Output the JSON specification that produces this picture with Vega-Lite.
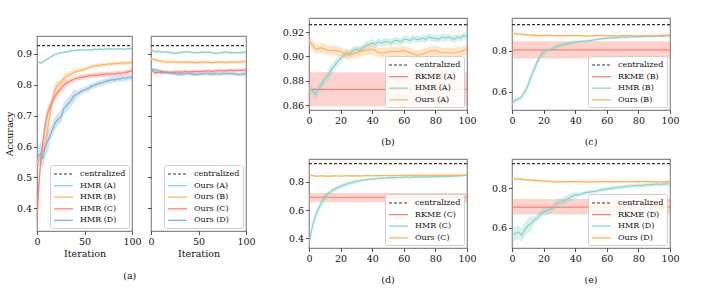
{
"$schema": "https://vega.github.io/schema/vega-lite/v6.json",
"padding": {"left": 3, "top": 17, "right": 0, "bottom": 0},
"datasets": {"d": [
{"k":"centralized","x":0,"y":0.926},{"k":"centralized","x":100,"y":0.926},
{"k":"RKME (A)","x":0,"y":0.873,"l":0.859,"h":0.887},{"k":"RKME (A)","x":100,"y":0.873,"l":0.859,"h":0.887},
{"k":"RKME (B)","x":0,"y":0.803,"l":0.762,"h":0.845},{"k":"RKME (B)","x":100,"y":0.803,"l":0.762,"h":0.845},
{"k":"RKME (C)","x":0,"y":0.690,"l":0.655,"h":0.720},{"k":"RKME (C)","x":100,"y":0.690,"l":0.655,"h":0.720},
{"k":"RKME (D)","x":0,"y":0.705,"l":0.667,"h":0.747},{"k":"RKME (D)","x":100,"y":0.705,"l":0.667,"h":0.747},
{"k":"HMR (A)","x":0,"y":0.874,"l":0.870,"h":0.878},
{"k":"HMR (A)","x":2,"y":0.872,"l":0.868,"h":0.876},
{"k":"HMR (A)","x":4,"y":0.869,"l":0.865,"h":0.873},
{"k":"HMR (A)","x":6,"y":0.873,"l":0.869,"h":0.877},
{"k":"HMR (A)","x":8,"y":0.877,"l":0.873,"h":0.881},
{"k":"HMR (A)","x":10,"y":0.881,"l":0.877,"h":0.885},
{"k":"HMR (A)","x":12,"y":0.884,"l":0.880,"h":0.888},
{"k":"HMR (A)","x":14,"y":0.889,"l":0.885,"h":0.893},
{"k":"HMR (A)","x":16,"y":0.892,"l":0.888,"h":0.896},
{"k":"HMR (A)","x":18,"y":0.896,"l":0.892,"h":0.900},
{"k":"HMR (A)","x":20,"y":0.898,"l":0.894,"h":0.902},
{"k":"HMR (A)","x":22,"y":0.901,"l":0.898,"h":0.904},
{"k":"HMR (A)","x":24,"y":0.903,"l":0.900,"h":0.906},
{"k":"HMR (A)","x":26,"y":0.902,"l":0.899,"h":0.905},
{"k":"HMR (A)","x":28,"y":0.905,"l":0.902,"h":0.908},
{"k":"HMR (A)","x":30,"y":0.906,"l":0.903,"h":0.909},
{"k":"HMR (A)","x":32,"y":0.905,"l":0.902,"h":0.908},
{"k":"HMR (A)","x":34,"y":0.907,"l":0.904,"h":0.910},
{"k":"HMR (A)","x":36,"y":0.909,"l":0.906,"h":0.912},
{"k":"HMR (A)","x":38,"y":0.910,"l":0.907,"h":0.913},
{"k":"HMR (A)","x":40,"y":0.911,"l":0.908,"h":0.914},
{"k":"HMR (A)","x":42,"y":0.910,"l":0.907,"h":0.913},
{"k":"HMR (A)","x":44,"y":0.912,"l":0.909,"h":0.915},
{"k":"HMR (A)","x":46,"y":0.911,"l":0.908,"h":0.914},
{"k":"HMR (A)","x":48,"y":0.912,"l":0.909,"h":0.915},
{"k":"HMR (A)","x":50,"y":0.912,"l":0.909,"h":0.915},
{"k":"HMR (A)","x":52,"y":0.911,"l":0.908,"h":0.914},
{"k":"HMR (A)","x":54,"y":0.913,"l":0.910,"h":0.916},
{"k":"HMR (A)","x":56,"y":0.913,"l":0.910,"h":0.916},
{"k":"HMR (A)","x":58,"y":0.912,"l":0.909,"h":0.915},
{"k":"HMR (A)","x":60,"y":0.914,"l":0.911,"h":0.917},
{"k":"HMR (A)","x":62,"y":0.914,"l":0.911,"h":0.917},
{"k":"HMR (A)","x":64,"y":0.913,"l":0.910,"h":0.916},
{"k":"HMR (A)","x":66,"y":0.915,"l":0.912,"h":0.918},
{"k":"HMR (A)","x":68,"y":0.914,"l":0.911,"h":0.917},
{"k":"HMR (A)","x":70,"y":0.914,"l":0.911,"h":0.917},
{"k":"HMR (A)","x":72,"y":0.915,"l":0.912,"h":0.918},
{"k":"HMR (A)","x":74,"y":0.914,"l":0.911,"h":0.917},
{"k":"HMR (A)","x":76,"y":0.916,"l":0.913,"h":0.919},
{"k":"HMR (A)","x":78,"y":0.915,"l":0.912,"h":0.918},
{"k":"HMR (A)","x":80,"y":0.915,"l":0.912,"h":0.918},
{"k":"HMR (A)","x":82,"y":0.914,"l":0.911,"h":0.917},
{"k":"HMR (A)","x":84,"y":0.916,"l":0.913,"h":0.919},
{"k":"HMR (A)","x":86,"y":0.915,"l":0.912,"h":0.918},
{"k":"HMR (A)","x":88,"y":0.916,"l":0.913,"h":0.919},
{"k":"HMR (A)","x":90,"y":0.915,"l":0.912,"h":0.918},
{"k":"HMR (A)","x":92,"y":0.914,"l":0.911,"h":0.917},
{"k":"HMR (A)","x":94,"y":0.916,"l":0.913,"h":0.919},
{"k":"HMR (A)","x":96,"y":0.915,"l":0.912,"h":0.918},
{"k":"HMR (A)","x":98,"y":0.917,"l":0.914,"h":0.920},
{"k":"HMR (A)","x":100,"y":0.916,"l":0.913,"h":0.919},
{"k":"Ours (A)","x":0,"y":0.913,"l":0.909,"h":0.917},
{"k":"Ours (A)","x":4,"y":0.906,"l":0.902,"h":0.910},
{"k":"Ours (A)","x":8,"y":0.907,"l":0.903,"h":0.911},
{"k":"Ours (A)","x":12,"y":0.905,"l":0.901,"h":0.909},
{"k":"Ours (A)","x":16,"y":0.905,"l":0.901,"h":0.909},
{"k":"Ours (A)","x":20,"y":0.904,"l":0.900,"h":0.908},
{"k":"Ours (A)","x":24,"y":0.901,"l":0.897,"h":0.905},
{"k":"Ours (A)","x":28,"y":0.902,"l":0.898,"h":0.906},
{"k":"Ours (A)","x":32,"y":0.904,"l":0.900,"h":0.908},
{"k":"Ours (A)","x":36,"y":0.905,"l":0.901,"h":0.909},
{"k":"Ours (A)","x":40,"y":0.906,"l":0.902,"h":0.910},
{"k":"Ours (A)","x":44,"y":0.903,"l":0.899,"h":0.907},
{"k":"Ours (A)","x":48,"y":0.903,"l":0.899,"h":0.907},
{"k":"Ours (A)","x":52,"y":0.904,"l":0.900,"h":0.908},
{"k":"Ours (A)","x":56,"y":0.904,"l":0.900,"h":0.908},
{"k":"Ours (A)","x":60,"y":0.905,"l":0.901,"h":0.909},
{"k":"Ours (A)","x":64,"y":0.903,"l":0.899,"h":0.907},
{"k":"Ours (A)","x":68,"y":0.901,"l":0.897,"h":0.905},
{"k":"Ours (A)","x":72,"y":0.902,"l":0.898,"h":0.906},
{"k":"Ours (A)","x":76,"y":0.904,"l":0.900,"h":0.908},
{"k":"Ours (A)","x":80,"y":0.905,"l":0.901,"h":0.909},
{"k":"Ours (A)","x":84,"y":0.903,"l":0.899,"h":0.907},
{"k":"Ours (A)","x":88,"y":0.903,"l":0.899,"h":0.907},
{"k":"Ours (A)","x":92,"y":0.903,"l":0.899,"h":0.907},
{"k":"Ours (A)","x":96,"y":0.904,"l":0.900,"h":0.908},
{"k":"Ours (A)","x":100,"y":0.906,"l":0.902,"h":0.910},
{"k":"HMR (B)","x":0,"y":0.545,"l":0.533,"h":0.557},
{"k":"HMR (B)","x":2,"y":0.560,"l":0.548,"h":0.572},
{"k":"HMR (B)","x":4,"y":0.565,"l":0.553,"h":0.577},
{"k":"HMR (B)","x":6,"y":0.575,"l":0.563,"h":0.587},
{"k":"HMR (B)","x":8,"y":0.600,"l":0.588,"h":0.612},
{"k":"HMR (B)","x":10,"y":0.630,"l":0.610,"h":0.650},
{"k":"HMR (B)","x":12,"y":0.672,"l":0.652,"h":0.692},
{"k":"HMR (B)","x":14,"y":0.710,"l":0.690,"h":0.730},
{"k":"HMR (B)","x":16,"y":0.745,"l":0.725,"h":0.765},
{"k":"HMR (B)","x":18,"y":0.775,"l":0.755,"h":0.795},
{"k":"HMR (B)","x":20,"y":0.790,"l":0.770,"h":0.810},
{"k":"HMR (B)","x":22,"y":0.800,"l":0.790,"h":0.810},
{"k":"HMR (B)","x":24,"y":0.805,"l":0.795,"h":0.815},
{"k":"HMR (B)","x":26,"y":0.812,"l":0.802,"h":0.822},
{"k":"HMR (B)","x":28,"y":0.818,"l":0.808,"h":0.828},
{"k":"HMR (B)","x":30,"y":0.825,"l":0.815,"h":0.835},
{"k":"HMR (B)","x":32,"y":0.828,"l":0.818,"h":0.838},
{"k":"HMR (B)","x":34,"y":0.832,"l":0.822,"h":0.842},
{"k":"HMR (B)","x":36,"y":0.835,"l":0.825,"h":0.845},
{"k":"HMR (B)","x":38,"y":0.838,"l":0.828,"h":0.848},
{"k":"HMR (B)","x":40,"y":0.841,"l":0.831,"h":0.851},
{"k":"HMR (B)","x":42,"y":0.843,"l":0.837,"h":0.849},
{"k":"HMR (B)","x":44,"y":0.845,"l":0.839,"h":0.851},
{"k":"HMR (B)","x":46,"y":0.846,"l":0.840,"h":0.852},
{"k":"HMR (B)","x":48,"y":0.847,"l":0.841,"h":0.853},
{"k":"HMR (B)","x":50,"y":0.849,"l":0.843,"h":0.855},
{"k":"HMR (B)","x":52,"y":0.852,"l":0.846,"h":0.858},
{"k":"HMR (B)","x":54,"y":0.854,"l":0.848,"h":0.860},
{"k":"HMR (B)","x":56,"y":0.857,"l":0.851,"h":0.863},
{"k":"HMR (B)","x":58,"y":0.858,"l":0.852,"h":0.864},
{"k":"HMR (B)","x":60,"y":0.860,"l":0.854,"h":0.866},
{"k":"HMR (B)","x":62,"y":0.861,"l":0.855,"h":0.867},
{"k":"HMR (B)","x":64,"y":0.862,"l":0.856,"h":0.868},
{"k":"HMR (B)","x":66,"y":0.861,"l":0.855,"h":0.867},
{"k":"HMR (B)","x":68,"y":0.864,"l":0.858,"h":0.870},
{"k":"HMR (B)","x":70,"y":0.865,"l":0.859,"h":0.871},
{"k":"HMR (B)","x":72,"y":0.864,"l":0.858,"h":0.870},
{"k":"HMR (B)","x":74,"y":0.866,"l":0.860,"h":0.872},
{"k":"HMR (B)","x":76,"y":0.867,"l":0.861,"h":0.873},
{"k":"HMR (B)","x":78,"y":0.866,"l":0.860,"h":0.872},
{"k":"HMR (B)","x":80,"y":0.868,"l":0.862,"h":0.874},
{"k":"HMR (B)","x":82,"y":0.867,"l":0.861,"h":0.873},
{"k":"HMR (B)","x":84,"y":0.869,"l":0.863,"h":0.875},
{"k":"HMR (B)","x":86,"y":0.868,"l":0.862,"h":0.874},
{"k":"HMR (B)","x":88,"y":0.870,"l":0.864,"h":0.876},
{"k":"HMR (B)","x":90,"y":0.869,"l":0.863,"h":0.875},
{"k":"HMR (B)","x":92,"y":0.871,"l":0.865,"h":0.877},
{"k":"HMR (B)","x":94,"y":0.870,"l":0.864,"h":0.876},
{"k":"HMR (B)","x":96,"y":0.869,"l":0.863,"h":0.875},
{"k":"HMR (B)","x":98,"y":0.872,"l":0.866,"h":0.878},
{"k":"HMR (B)","x":100,"y":0.871,"l":0.865,"h":0.877},
{"k":"Ours (B)","x":0,"y":0.884,"l":0.879,"h":0.889},
{"k":"Ours (B)","x":4,"y":0.880,"l":0.875,"h":0.885},
{"k":"Ours (B)","x":8,"y":0.877,"l":0.872,"h":0.882},
{"k":"Ours (B)","x":12,"y":0.875,"l":0.870,"h":0.880},
{"k":"Ours (B)","x":16,"y":0.873,"l":0.868,"h":0.878},
{"k":"Ours (B)","x":20,"y":0.873,"l":0.868,"h":0.878},
{"k":"Ours (B)","x":24,"y":0.874,"l":0.869,"h":0.879},
{"k":"Ours (B)","x":28,"y":0.872,"l":0.867,"h":0.877},
{"k":"Ours (B)","x":32,"y":0.873,"l":0.868,"h":0.878},
{"k":"Ours (B)","x":36,"y":0.872,"l":0.867,"h":0.877},
{"k":"Ours (B)","x":40,"y":0.873,"l":0.868,"h":0.878},
{"k":"Ours (B)","x":44,"y":0.872,"l":0.867,"h":0.877},
{"k":"Ours (B)","x":48,"y":0.871,"l":0.866,"h":0.876},
{"k":"Ours (B)","x":52,"y":0.872,"l":0.867,"h":0.877},
{"k":"Ours (B)","x":56,"y":0.873,"l":0.868,"h":0.878},
{"k":"Ours (B)","x":60,"y":0.872,"l":0.867,"h":0.877},
{"k":"Ours (B)","x":64,"y":0.871,"l":0.866,"h":0.876},
{"k":"Ours (B)","x":68,"y":0.872,"l":0.867,"h":0.877},
{"k":"Ours (B)","x":72,"y":0.873,"l":0.868,"h":0.878},
{"k":"Ours (B)","x":76,"y":0.872,"l":0.867,"h":0.877},
{"k":"Ours (B)","x":80,"y":0.872,"l":0.867,"h":0.877},
{"k":"Ours (B)","x":84,"y":0.873,"l":0.868,"h":0.878},
{"k":"Ours (B)","x":88,"y":0.872,"l":0.867,"h":0.877},
{"k":"Ours (B)","x":92,"y":0.873,"l":0.868,"h":0.878},
{"k":"Ours (B)","x":96,"y":0.874,"l":0.869,"h":0.879},
{"k":"Ours (B)","x":100,"y":0.874,"l":0.869,"h":0.879},
{"k":"HMR (C)","x":0,"y":0.360,"l":0.330,"h":0.390},
{"k":"HMR (C)","x":2,"y":0.480,"l":0.450,"h":0.510},
{"k":"HMR (C)","x":4,"y":0.555,"l":0.525,"h":0.585},
{"k":"HMR (C)","x":6,"y":0.610,"l":0.580,"h":0.640},
{"k":"HMR (C)","x":8,"y":0.655,"l":0.625,"h":0.685},
{"k":"HMR (C)","x":10,"y":0.690,"l":0.660,"h":0.720},
{"k":"HMR (C)","x":12,"y":0.715,"l":0.700,"h":0.730},
{"k":"HMR (C)","x":14,"y":0.732,"l":0.717,"h":0.747},
{"k":"HMR (C)","x":16,"y":0.745,"l":0.730,"h":0.760},
{"k":"HMR (C)","x":18,"y":0.757,"l":0.742,"h":0.772},
{"k":"HMR (C)","x":20,"y":0.767,"l":0.752,"h":0.782},
{"k":"HMR (C)","x":22,"y":0.775,"l":0.760,"h":0.790},
{"k":"HMR (C)","x":24,"y":0.783,"l":0.768,"h":0.798},
{"k":"HMR (C)","x":26,"y":0.790,"l":0.775,"h":0.805},
{"k":"HMR (C)","x":28,"y":0.797,"l":0.782,"h":0.812},
{"k":"HMR (C)","x":30,"y":0.802,"l":0.787,"h":0.817},
{"k":"HMR (C)","x":32,"y":0.806,"l":0.798,"h":0.814},
{"k":"HMR (C)","x":34,"y":0.810,"l":0.802,"h":0.818},
{"k":"HMR (C)","x":36,"y":0.813,"l":0.805,"h":0.821},
{"k":"HMR (C)","x":38,"y":0.816,"l":0.808,"h":0.824},
{"k":"HMR (C)","x":40,"y":0.819,"l":0.811,"h":0.827},
{"k":"HMR (C)","x":42,"y":0.820,"l":0.812,"h":0.828},
{"k":"HMR (C)","x":44,"y":0.822,"l":0.814,"h":0.830},
{"k":"HMR (C)","x":46,"y":0.823,"l":0.815,"h":0.831},
{"k":"HMR (C)","x":48,"y":0.825,"l":0.817,"h":0.833},
{"k":"HMR (C)","x":50,"y":0.826,"l":0.818,"h":0.834},
{"k":"HMR (C)","x":52,"y":0.826,"l":0.818,"h":0.834},
{"k":"HMR (C)","x":54,"y":0.828,"l":0.820,"h":0.836},
{"k":"HMR (C)","x":56,"y":0.829,"l":0.821,"h":0.837},
{"k":"HMR (C)","x":58,"y":0.829,"l":0.821,"h":0.837},
{"k":"HMR (C)","x":60,"y":0.830,"l":0.822,"h":0.838},
{"k":"HMR (C)","x":62,"y":0.831,"l":0.823,"h":0.839},
{"k":"HMR (C)","x":64,"y":0.830,"l":0.822,"h":0.838},
{"k":"HMR (C)","x":66,"y":0.832,"l":0.824,"h":0.840},
{"k":"HMR (C)","x":68,"y":0.833,"l":0.825,"h":0.841},
{"k":"HMR (C)","x":70,"y":0.832,"l":0.824,"h":0.840},
{"k":"HMR (C)","x":72,"y":0.833,"l":0.825,"h":0.841},
{"k":"HMR (C)","x":74,"y":0.834,"l":0.826,"h":0.842},
{"k":"HMR (C)","x":76,"y":0.833,"l":0.825,"h":0.841},
{"k":"HMR (C)","x":78,"y":0.835,"l":0.827,"h":0.843},
{"k":"HMR (C)","x":80,"y":0.835,"l":0.827,"h":0.843},
{"k":"HMR (C)","x":82,"y":0.834,"l":0.826,"h":0.842},
{"k":"HMR (C)","x":84,"y":0.836,"l":0.828,"h":0.844},
{"k":"HMR (C)","x":86,"y":0.837,"l":0.829,"h":0.845},
{"k":"HMR (C)","x":88,"y":0.836,"l":0.828,"h":0.844},
{"k":"HMR (C)","x":90,"y":0.838,"l":0.830,"h":0.846},
{"k":"HMR (C)","x":92,"y":0.839,"l":0.831,"h":0.847},
{"k":"HMR (C)","x":94,"y":0.840,"l":0.832,"h":0.848},
{"k":"HMR (C)","x":96,"y":0.841,"l":0.833,"h":0.849},
{"k":"HMR (C)","x":98,"y":0.843,"l":0.835,"h":0.851},
{"k":"HMR (C)","x":100,"y":0.845,"l":0.837,"h":0.853},
{"k":"Ours (C)","x":0,"y":0.848,"l":0.842,"h":0.854},
{"k":"Ours (C)","x":4,"y":0.838,"l":0.830,"h":0.846},
{"k":"Ours (C)","x":8,"y":0.840,"l":0.834,"h":0.846},
{"k":"Ours (C)","x":12,"y":0.838,"l":0.832,"h":0.844},
{"k":"Ours (C)","x":16,"y":0.840,"l":0.834,"h":0.846},
{"k":"Ours (C)","x":20,"y":0.839,"l":0.833,"h":0.845},
{"k":"Ours (C)","x":24,"y":0.840,"l":0.834,"h":0.846},
{"k":"Ours (C)","x":28,"y":0.841,"l":0.835,"h":0.847},
{"k":"Ours (C)","x":32,"y":0.840,"l":0.834,"h":0.846},
{"k":"Ours (C)","x":36,"y":0.842,"l":0.836,"h":0.848},
{"k":"Ours (C)","x":40,"y":0.841,"l":0.835,"h":0.847},
{"k":"Ours (C)","x":44,"y":0.842,"l":0.836,"h":0.848},
{"k":"Ours (C)","x":48,"y":0.843,"l":0.837,"h":0.849},
{"k":"Ours (C)","x":52,"y":0.842,"l":0.836,"h":0.848},
{"k":"Ours (C)","x":56,"y":0.843,"l":0.837,"h":0.849},
{"k":"Ours (C)","x":60,"y":0.844,"l":0.838,"h":0.850},
{"k":"Ours (C)","x":64,"y":0.843,"l":0.837,"h":0.849},
{"k":"Ours (C)","x":68,"y":0.844,"l":0.838,"h":0.850},
{"k":"Ours (C)","x":72,"y":0.845,"l":0.839,"h":0.851},
{"k":"Ours (C)","x":76,"y":0.844,"l":0.838,"h":0.850},
{"k":"Ours (C)","x":80,"y":0.845,"l":0.839,"h":0.851},
{"k":"Ours (C)","x":84,"y":0.846,"l":0.840,"h":0.852},
{"k":"Ours (C)","x":88,"y":0.845,"l":0.839,"h":0.851},
{"k":"Ours (C)","x":92,"y":0.846,"l":0.840,"h":0.852},
{"k":"Ours (C)","x":96,"y":0.846,"l":0.840,"h":0.852},
{"k":"Ours (C)","x":100,"y":0.847,"l":0.841,"h":0.853},
{"k":"HMR (D)","x":0,"y":0.562,"l":0.527,"h":0.597},
{"k":"HMR (D)","x":2,"y":0.570,"l":0.535,"h":0.605},
{"k":"HMR (D)","x":4,"y":0.578,"l":0.543,"h":0.613},
{"k":"HMR (D)","x":6,"y":0.562,"l":0.527,"h":0.597},
{"k":"HMR (D)","x":8,"y":0.590,"l":0.555,"h":0.625},
{"k":"HMR (D)","x":10,"y":0.610,"l":0.575,"h":0.645},
{"k":"HMR (D)","x":12,"y":0.622,"l":0.587,"h":0.657},
{"k":"HMR (D)","x":14,"y":0.638,"l":0.618,"h":0.658},
{"k":"HMR (D)","x":16,"y":0.652,"l":0.632,"h":0.672},
{"k":"HMR (D)","x":18,"y":0.668,"l":0.648,"h":0.688},
{"k":"HMR (D)","x":20,"y":0.680,"l":0.660,"h":0.700},
{"k":"HMR (D)","x":22,"y":0.688,"l":0.668,"h":0.708},
{"k":"HMR (D)","x":24,"y":0.693,"l":0.673,"h":0.713},
{"k":"HMR (D)","x":26,"y":0.700,"l":0.680,"h":0.720},
{"k":"HMR (D)","x":28,"y":0.722,"l":0.702,"h":0.742},
{"k":"HMR (D)","x":30,"y":0.728,"l":0.708,"h":0.748},
{"k":"HMR (D)","x":32,"y":0.735,"l":0.715,"h":0.755},
{"k":"HMR (D)","x":34,"y":0.742,"l":0.722,"h":0.762},
{"k":"HMR (D)","x":36,"y":0.750,"l":0.730,"h":0.770},
{"k":"HMR (D)","x":38,"y":0.760,"l":0.740,"h":0.780},
{"k":"HMR (D)","x":40,"y":0.766,"l":0.746,"h":0.786},
{"k":"HMR (D)","x":42,"y":0.768,"l":0.758,"h":0.778},
{"k":"HMR (D)","x":44,"y":0.772,"l":0.762,"h":0.782},
{"k":"HMR (D)","x":46,"y":0.778,"l":0.768,"h":0.788},
{"k":"HMR (D)","x":48,"y":0.780,"l":0.770,"h":0.790},
{"k":"HMR (D)","x":50,"y":0.783,"l":0.773,"h":0.793},
{"k":"HMR (D)","x":52,"y":0.785,"l":0.775,"h":0.795},
{"k":"HMR (D)","x":54,"y":0.787,"l":0.777,"h":0.797},
{"k":"HMR (D)","x":56,"y":0.792,"l":0.782,"h":0.802},
{"k":"HMR (D)","x":58,"y":0.795,"l":0.785,"h":0.805},
{"k":"HMR (D)","x":60,"y":0.797,"l":0.787,"h":0.807},
{"k":"HMR (D)","x":62,"y":0.800,"l":0.790,"h":0.810},
{"k":"HMR (D)","x":64,"y":0.802,"l":0.792,"h":0.812},
{"k":"HMR (D)","x":66,"y":0.805,"l":0.795,"h":0.815},
{"k":"HMR (D)","x":68,"y":0.806,"l":0.796,"h":0.816},
{"k":"HMR (D)","x":70,"y":0.808,"l":0.798,"h":0.818},
{"k":"HMR (D)","x":72,"y":0.810,"l":0.800,"h":0.820},
{"k":"HMR (D)","x":74,"y":0.812,"l":0.802,"h":0.822},
{"k":"HMR (D)","x":76,"y":0.813,"l":0.803,"h":0.823},
{"k":"HMR (D)","x":78,"y":0.815,"l":0.805,"h":0.825},
{"k":"HMR (D)","x":80,"y":0.816,"l":0.806,"h":0.826},
{"k":"HMR (D)","x":82,"y":0.815,"l":0.805,"h":0.825},
{"k":"HMR (D)","x":84,"y":0.818,"l":0.808,"h":0.828},
{"k":"HMR (D)","x":86,"y":0.819,"l":0.809,"h":0.829},
{"k":"HMR (D)","x":88,"y":0.818,"l":0.808,"h":0.828},
{"k":"HMR (D)","x":90,"y":0.821,"l":0.811,"h":0.831},
{"k":"HMR (D)","x":92,"y":0.822,"l":0.812,"h":0.832},
{"k":"HMR (D)","x":94,"y":0.820,"l":0.810,"h":0.830},
{"k":"HMR (D)","x":96,"y":0.823,"l":0.813,"h":0.833},
{"k":"HMR (D)","x":98,"y":0.824,"l":0.814,"h":0.834},
{"k":"HMR (D)","x":100,"y":0.822,"l":0.812,"h":0.832},
{"k":"Ours (D)","x":0,"y":0.850,"l":0.844,"h":0.856},
{"k":"Ours (D)","x":4,"y":0.848,"l":0.842,"h":0.854},
{"k":"Ours (D)","x":8,"y":0.845,"l":0.839,"h":0.851},
{"k":"Ours (D)","x":12,"y":0.842,"l":0.836,"h":0.848},
{"k":"Ours (D)","x":16,"y":0.840,"l":0.834,"h":0.846},
{"k":"Ours (D)","x":20,"y":0.838,"l":0.832,"h":0.844},
{"k":"Ours (D)","x":24,"y":0.836,"l":0.830,"h":0.842},
{"k":"Ours (D)","x":28,"y":0.834,"l":0.828,"h":0.840},
{"k":"Ours (D)","x":32,"y":0.834,"l":0.828,"h":0.840},
{"k":"Ours (D)","x":36,"y":0.835,"l":0.829,"h":0.841},
{"k":"Ours (D)","x":40,"y":0.835,"l":0.829,"h":0.841},
{"k":"Ours (D)","x":44,"y":0.834,"l":0.828,"h":0.840},
{"k":"Ours (D)","x":48,"y":0.833,"l":0.827,"h":0.839},
{"k":"Ours (D)","x":52,"y":0.834,"l":0.828,"h":0.840},
{"k":"Ours (D)","x":56,"y":0.835,"l":0.829,"h":0.841},
{"k":"Ours (D)","x":60,"y":0.835,"l":0.829,"h":0.841},
{"k":"Ours (D)","x":64,"y":0.834,"l":0.828,"h":0.840},
{"k":"Ours (D)","x":68,"y":0.835,"l":0.829,"h":0.841},
{"k":"Ours (D)","x":72,"y":0.834,"l":0.828,"h":0.840},
{"k":"Ours (D)","x":76,"y":0.835,"l":0.829,"h":0.841},
{"k":"Ours (D)","x":80,"y":0.835,"l":0.829,"h":0.841},
{"k":"Ours (D)","x":84,"y":0.836,"l":0.830,"h":0.842},
{"k":"Ours (D)","x":88,"y":0.834,"l":0.828,"h":0.840},
{"k":"Ours (D)","x":92,"y":0.833,"l":0.827,"h":0.839},
{"k":"Ours (D)","x":96,"y":0.834,"l":0.828,"h":0.840},
{"k":"Ours (D)","x":100,"y":0.835,"l":0.829,"h":0.841}
]},
"data": {"name": "d"},
"config": {
  "font": "DejaVu Serif",
  "view": {"stroke": "#888888", "strokeWidth": 1.2},
  "axis": {"domain": false, "grid": false, "tickColor": "#222222", "tickSize": 3.5, "tickWidth": 0.8, "labelFontSize": 9.5, "labelColor": "#111111", "labelPadding": 2, "labelFlush": false, "labelOverlap": false, "labelBound": false, "titleFontSize": 9.5, "titleFontWeight": "normal", "titleColor": "#111111", "titlePadding": 2},
  "legend": {"orient": "bottom-right", "offset": 3, "labelFontSize": 8, "labelColor": "#111111", "symbolType": "M-1,0H2.8", "symbolSize": 100, "symbolStrokeWidth": 1.4, "rowPadding": 1.6, "padding": 3, "fillColor": "rgba(255,255,255,0.85)", "strokeColor": "#d0d0d0", "cornerRadius": 2, "labelOffset": 15},
  "title": {"fontSize": 9.5, "fontWeight": "normal", "color": "#111111"},
  "line": {"strokeWidth": 1.2, "clip": true},
  "area": {"opacity": 0.35, "clip": true}
},
"spacing": 25,
"resolve": {"scale": {"x": "independent", "y": "independent", "color": "independent", "strokeDash": "independent", "fill": "independent"}, "legend": {"color": "independent", "strokeDash": "independent"}},
"hconcat": [
 {
  "title": {"text": "(a)", "orient": "bottom", "anchor": "middle", "offset": 13},
  "spacing": 16,
  "resolve": {"scale": {"x": "independent", "y": "independent", "color": "independent", "strokeDash": "independent", "fill": "independent"}, "legend": {"color": "independent", "strokeDash": "independent"}},
  "vconcat": [
   {"width": 95, "height": 1, "data": {"values": []}, "mark": "text", "view": {"stroke": null}},
   {
  "bounds": "flush",
  "spacing": 19,
  "resolve": {"scale": {"x": "independent", "y": "independent", "color": "independent", "strokeDash": "independent", "fill": "independent"}, "legend": {"color": "independent", "strokeDash": "independent"}},
  "hconcat": [
   {
    "width": 95, "height": 195,
    "encoding": {"x": {"field": "x", "type": "quantitative", "scale": {"domain": [0, 100], "nice": false}, "axis": {"values": [0, 50, 100], "title": "Iteration"}}},
    "layer": [
     {"transform": [{"filter": {"field": "k", "oneOf": ["HMR (A)", "HMR (B)", "HMR (C)", "HMR (D)"]}}],
      "mark": "area",
      "encoding": {
       "y": {"field": "l", "type": "quantitative", "scale": {"domain": [0.327, 0.957], "nice": false, "zero": false}, "axis": {"values": [0.4, 0.5, 0.6, 0.7, 0.8, 0.9], "format": ".1f", "title": "Accuracy"}},
       "y2": {"field": "h"},
       "fill": {"field": "k", "type": "nominal", "scale": {"domain": ["HMR (A)", "HMR (B)", "HMR (C)", "HMR (D)"], "range": ["#8dd3c7", "#fdb462", "#fb8072", "#80b1d3"]}, "legend": null}}},
     {"transform": [{"filter": {"field": "k", "oneOf": ["centralized", "HMR (A)", "HMR (B)", "HMR (C)", "HMR (D)"]}}],
      "mark": "line",
      "encoding": {
       "y": {"field": "y", "type": "quantitative", "scale": {"domain": [0.327, 0.957], "nice": false, "zero": false}, "axis": {"values": [0.4, 0.5, 0.6, 0.7, 0.8, 0.9], "format": ".1f", "title": "Accuracy"}},
       "color": {"field": "k", "type": "nominal", "scale": {"domain": ["centralized", "HMR (A)", "HMR (B)", "HMR (C)", "HMR (D)"], "range": ["#333333", "#8dd3c7", "#fdb462", "#fb8072", "#80b1d3"]}, "legend": {"title": null}},
       "strokeDash": {"field": "k", "type": "nominal", "scale": {"domain": ["centralized", "HMR (A)", "HMR (B)", "HMR (C)", "HMR (D)"], "range": [[3, 2], [1, 0], [1, 0], [1, 0], [1, 0]]}, "legend": {"title": null}}}}
    ]
   },
   {
    "width": 95, "height": 195,
    "encoding": {"x": {"field": "x", "type": "quantitative", "scale": {"domain": [0, 100], "nice": false}, "axis": {"values": [0, 50, 100], "title": "Iteration"}}},
    "layer": [
     {"transform": [{"filter": {"field": "k", "oneOf": ["Ours (A)", "Ours (B)", "Ours (C)", "Ours (D)"]}}],
      "mark": "area",
      "encoding": {
       "y": {"field": "l", "type": "quantitative", "scale": {"domain": [0.327, 0.957], "nice": false, "zero": false}, "axis": {"values": [0.4, 0.5, 0.6, 0.7, 0.8, 0.9], "labels": false, "title": null}},
       "y2": {"field": "h"},
       "fill": {"field": "k", "type": "nominal", "scale": {"domain": ["Ours (A)", "Ours (B)", "Ours (C)", "Ours (D)"], "range": ["#8dd3c7", "#fdb462", "#fb8072", "#80b1d3"]}, "legend": null}}},
     {"transform": [{"filter": {"field": "k", "oneOf": ["centralized", "Ours (A)", "Ours (B)", "Ours (C)", "Ours (D)"]}}],
      "mark": "line",
      "encoding": {
       "y": {"field": "y", "type": "quantitative", "scale": {"domain": [0.327, 0.957], "nice": false, "zero": false}, "axis": {"values": [0.4, 0.5, 0.6, 0.7, 0.8, 0.9], "labels": false, "title": null}},
       "color": {"field": "k", "type": "nominal", "scale": {"domain": ["centralized", "Ours (A)", "Ours (B)", "Ours (C)", "Ours (D)"], "range": ["#333333", "#8dd3c7", "#fdb462", "#fb8072", "#80b1d3"]}, "legend": {"title": null}},
       "strokeDash": {"field": "k", "type": "nominal", "scale": {"domain": ["centralized", "Ours (A)", "Ours (B)", "Ours (C)", "Ours (D)"], "range": [[3, 2], [1, 0], [1, 0], [1, 0], [1, 0]]}, "legend": {"title": null}}}}
    ]
   }
  ]
   }
  ]
 },
 {
  "spacing": 10,
  "resolve": {"scale": {"x": "independent", "y": "independent", "color": "independent", "strokeDash": "independent", "fill": "independent"}, "legend": {"color": "independent", "strokeDash": "independent"}},
  "vconcat": [
   {
    "bounds": "flush", "spacing": 45,
    "resolve": {"scale": {"x": "independent", "y": "independent", "color": "independent", "strokeDash": "independent", "fill": "independent"}, "legend": {"color": "independent", "strokeDash": "independent"}},
    "hconcat": [
     {
      "width": 158, "height": 92,
      "title": {"text": "(b)", "orient": "bottom", "offset": 12},
      "encoding": {"x": {"field": "x", "type": "quantitative", "scale": {"domain": [0, 100], "nice": false}, "axis": {"values": [0, 20, 40, 60, 80, 100], "title": null}}},
      "layer": [
       {"transform": [{"filter": {"field": "k", "oneOf": ["RKME (A)", "HMR (A)", "Ours (A)"]}}],
        "mark": "area",
        "encoding": {
         "y": {"field": "l", "type": "quantitative", "scale": {"domain": [0.856, 0.9315], "nice": false, "zero": false}, "axis": {"values": [0.86, 0.88, 0.9, 0.92], "format": ".2f", "title": null}},
         "y2": {"field": "h"},
         "fill": {"field": "k", "type": "nominal", "scale": {"domain": ["RKME (A)", "HMR (A)", "Ours (A)"], "range": ["#fb8072", "#8dd3c7", "#fdb462"]}, "legend": null}}},
       {"transform": [{"filter": {"field": "k", "oneOf": ["centralized", "RKME (A)", "HMR (A)", "Ours (A)"]}}],
        "mark": "line",
        "encoding": {
         "y": {"field": "y", "type": "quantitative", "scale": {"domain": [0.856, 0.9315], "nice": false, "zero": false}, "axis": {"values": [0.86, 0.88, 0.9, 0.92], "format": ".2f", "title": null}},
         "color": {"field": "k", "type": "nominal", "scale": {"domain": ["centralized", "RKME (A)", "HMR (A)", "Ours (A)"], "range": ["#333333", "#fb8072", "#8dd3c7", "#fdb462"]}, "legend": {"title": null}},
         "strokeDash": {"field": "k", "type": "nominal", "scale": {"domain": ["centralized", "RKME (A)", "HMR (A)", "Ours (A)"], "range": [[3, 2], [1, 0], [1, 0], [1, 0]]}, "legend": {"title": null}}}}
      ]
     },
     {
      "width": 158, "height": 92,
      "title": {"text": "(c)", "orient": "bottom", "offset": 12},
      "encoding": {"x": {"field": "x", "type": "quantitative", "scale": {"domain": [0, 100], "nice": false}, "axis": {"values": [0, 20, 40, 60, 80, 100], "title": null}}},
      "layer": [
       {"transform": [{"filter": {"field": "k", "oneOf": ["RKME (B)", "HMR (B)", "Ours (B)"]}}],
        "mark": "area",
        "encoding": {
         "y": {"field": "l", "type": "quantitative", "scale": {"domain": [0.512, 0.958], "nice": false, "zero": false}, "axis": {"values": [0.6, 0.8], "format": ".1f", "title": null}},
         "y2": {"field": "h"},
         "fill": {"field": "k", "type": "nominal", "scale": {"domain": ["RKME (B)", "HMR (B)", "Ours (B)"], "range": ["#fb8072", "#8dd3c7", "#fdb462"]}, "legend": null}}},
       {"transform": [{"filter": {"field": "k", "oneOf": ["centralized", "RKME (B)", "HMR (B)", "Ours (B)"]}}],
        "mark": "line",
        "encoding": {
         "y": {"field": "y", "type": "quantitative", "scale": {"domain": [0.512, 0.958], "nice": false, "zero": false}, "axis": {"values": [0.6, 0.8], "format": ".1f", "title": null}},
         "color": {"field": "k", "type": "nominal", "scale": {"domain": ["centralized", "RKME (B)", "HMR (B)", "Ours (B)"], "range": ["#333333", "#fb8072", "#8dd3c7", "#fdb462"]}, "legend": {"title": null}},
         "strokeDash": {"field": "k", "type": "nominal", "scale": {"domain": ["centralized", "RKME (B)", "HMR (B)", "Ours (B)"], "range": [[3, 2], [1, 0], [1, 0], [1, 0]]}, "legend": {"title": null}}}}
      ]
     }
    ]
   },
   {
    "bounds": "flush", "spacing": 45,
    "resolve": {"scale": {"x": "independent", "y": "independent", "color": "independent", "strokeDash": "independent", "fill": "independent"}, "legend": {"color": "independent", "strokeDash": "independent"}},
    "hconcat": [
     {
      "width": 158, "height": 89,
      "title": {"text": "(d)", "orient": "bottom", "offset": 12},
      "encoding": {"x": {"field": "x", "type": "quantitative", "scale": {"domain": [0, 100], "nice": false}, "axis": {"values": [0, 20, 40, 60, 80, 100], "title": null}}},
      "layer": [
       {"transform": [{"filter": {"field": "k", "oneOf": ["RKME (C)", "HMR (C)", "Ours (C)"]}}],
        "mark": "area",
        "encoding": {
         "y": {"field": "l", "type": "quantitative", "scale": {"domain": [0.333, 0.959], "nice": false, "zero": false}, "axis": {"values": [0.4, 0.6, 0.8], "format": ".1f", "title": null}},
         "y2": {"field": "h"},
         "fill": {"field": "k", "type": "nominal", "scale": {"domain": ["RKME (C)", "HMR (C)", "Ours (C)"], "range": ["#fb8072", "#8dd3c7", "#fdb462"]}, "legend": null}}},
       {"transform": [{"filter": {"field": "k", "oneOf": ["centralized", "RKME (C)", "HMR (C)", "Ours (C)"]}}],
        "mark": "line",
        "encoding": {
         "y": {"field": "y", "type": "quantitative", "scale": {"domain": [0.333, 0.959], "nice": false, "zero": false}, "axis": {"values": [0.4, 0.6, 0.8], "format": ".1f", "title": null}},
         "color": {"field": "k", "type": "nominal", "scale": {"domain": ["centralized", "RKME (C)", "HMR (C)", "Ours (C)"], "range": ["#333333", "#fb8072", "#8dd3c7", "#fdb462"]}, "legend": {"title": null}},
         "strokeDash": {"field": "k", "type": "nominal", "scale": {"domain": ["centralized", "RKME (C)", "HMR (C)", "Ours (C)"], "range": [[3, 2], [1, 0], [1, 0], [1, 0]]}, "legend": {"title": null}}}}
      ]
     },
     {
      "width": 158, "height": 89,
      "title": {"text": "(e)", "orient": "bottom", "offset": 12},
      "encoding": {"x": {"field": "x", "type": "quantitative", "scale": {"domain": [0, 100], "nice": false}, "axis": {"values": [0, 20, 40, 60, 80, 100], "title": null}}},
      "layer": [
       {"transform": [{"filter": {"field": "k", "oneOf": ["RKME (D)", "HMR (D)", "Ours (D)"]}}],
        "mark": "area",
        "encoding": {
         "y": {"field": "l", "type": "quantitative", "scale": {"domain": [0.497, 0.95], "nice": false, "zero": false}, "axis": {"values": [0.6, 0.8], "format": ".1f", "title": null}},
         "y2": {"field": "h"},
         "fill": {"field": "k", "type": "nominal", "scale": {"domain": ["RKME (D)", "HMR (D)", "Ours (D)"], "range": ["#fb8072", "#8dd3c7", "#fdb462"]}, "legend": null}}},
       {"transform": [{"filter": {"field": "k", "oneOf": ["centralized", "RKME (D)", "HMR (D)", "Ours (D)"]}}],
        "mark": "line",
        "encoding": {
         "y": {"field": "y", "type": "quantitative", "scale": {"domain": [0.497, 0.95], "nice": false, "zero": false}, "axis": {"values": [0.6, 0.8], "format": ".1f", "title": null}},
         "color": {"field": "k", "type": "nominal", "scale": {"domain": ["centralized", "RKME (D)", "HMR (D)", "Ours (D)"], "range": ["#333333", "#fb8072", "#8dd3c7", "#fdb462"]}, "legend": {"title": null}},
         "strokeDash": {"field": "k", "type": "nominal", "scale": {"domain": ["centralized", "RKME (D)", "HMR (D)", "Ours (D)"], "range": [[3, 2], [1, 0], [1, 0], [1, 0]]}, "legend": {"title": null}}}}
      ]
     }
    ]
   }
  ]
 }
]
}
